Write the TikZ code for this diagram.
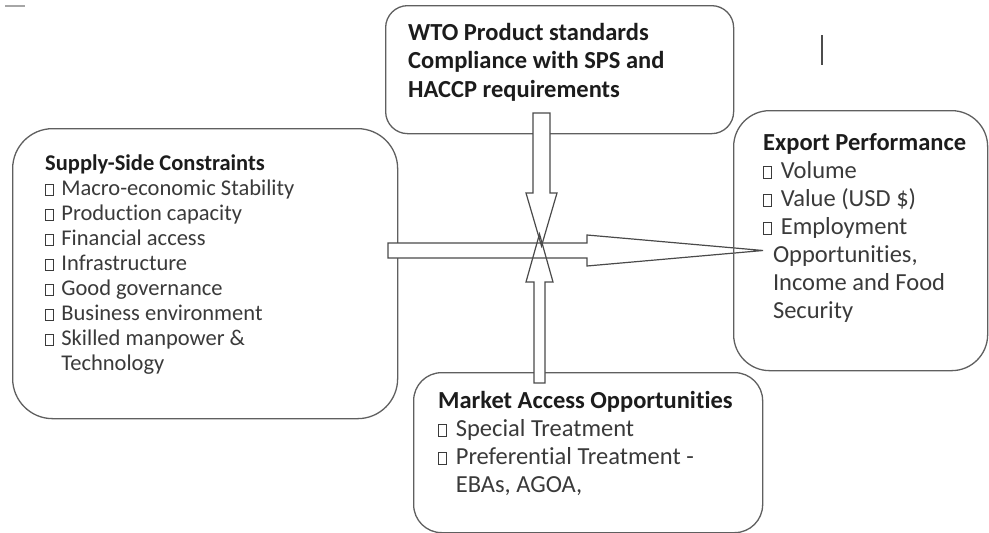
\documentclass[tikz,border=0pt]{standalone}
\usepackage{fontspec}
\setmainfont{Carlito}[Ligatures=NoCommon]
\usetikzlibrary{calc}

\definecolor{boxline}{HTML}{5F5F5F}
\definecolor{arrline}{HTML}{4A4A4A}
\definecolor{titletext}{HTML}{1C1C1C}
\definecolor{itemtext}{HTML}{3A3A3A}

% strut that fixes the height of a block's first line
\newcommand\topstrut{\rule{0pt}{20pt}}
% hollow square bullet
\newcommand\chk{\makebox[0.72em][l]{\setlength\fboxsep{0pt}\setlength\fboxrule{0.8pt}\fbox{\rule{0pt}{0.46em}\hspace{0.3em}}}}
\newcommand\contindent{\hspace*{0.72em}}

\begin{document}
\begin{tikzpicture}[x=1pt,y=-1pt,
  panel/.style={draw=boxline, line width=1.3pt, inner sep=0pt, anchor=north west},
  arrowfill/.style={fill=white},
  arrowdraw/.style={draw=arrline, line width=1.2pt, line join=miter},
  txt/.style={anchor=north west, inner sep=0pt, align=left, text=itemtext},
  bodyA/.style={font=\fontsize{22.5}{25}\selectfont},
  bodyB/.style={font=\fontsize{24.5}{28}\selectfont},
  bodyBbold/.style={font=\fontsize{24.5}{28.5}\selectfont\bfseries}]

\useasboundingbox (0,0) rectangle (989,533);

% small marks near the top
\draw[black!35, line width=2.5pt] (5,6) -- (25,6);
\draw[black!70, line width=2.8pt] (822,35) -- (822,65);

% panels
\node[panel, fill=white, rounded corners=40pt, minimum width=385pt, minimum height=290pt] (supply) at (12,128) {};
\node[panel, fill=white, rounded corners=22pt, minimum width=348pt, minimum height=128pt] (wto) at (385,5) {};
\node[panel, fill=white, rounded corners=28pt, minimum width=349pt, minimum height=160pt] (market) at (413,372) {};

% panel texts
\node[txt, bodyBbold, text=titletext] (wtotext) at (408,20)
  {\topstrut WTO Product standards\\Compliance with SPS and\\HACCP requirements};

\node[txt, bodyA] (supplytext) at (45,150)
  {\topstrut\textcolor{titletext}{\textbf{Supply-Side Constraints}}\\
   \chk Macro-economic Stability\\
   \chk Production capacity\\
   \chk Financial access\\
   \chk Infrastructure\\
   \chk Good governance\\
   \chk Business environment\\
   \chk Skilled manpower \&\\
   \contindent Technology};

\node[txt, bodyB] (markettext) at (438,388)
  {\topstrut\textcolor{titletext}{\textbf{Market Access Opportunities}}\\
   \chk Special Treatment\\
   \chk Preferential Treatment -\\
   \contindent EBAs, AGOA,};

% block arrows
\coordinate (hT) at (388,250.5);
\coordinate (hH) at (763,250.5);
\coordinate (dT) at (541.5,113);
\coordinate (dH) at (541.5,246);
\coordinate (uT) at (539.5,383);
\coordinate (uH) at (539.5,234);

\foreach \mode in {arrowfill,arrowdraw}{
  \path[\mode] ($(hT)+(0,-7.5)$) -- ($(hH)+(-176,-7.5)$) -- ($(hH)+(-176,-15.5)$) -- (hH)
     -- ($(hH)+(-176,15.5)$) -- ($(hH)+(-176,7.5)$) -- ($(hT)+(0,7.5)$) -- cycle;
  \path[\mode] ($(dT)+(-8.5,0)$) -- ($(dH)+(-8.5,-53)$) -- ($(dH)+(-15.5,-53)$) -- (dH)
     -- ($(dH)+(15.5,-53)$) -- ($(dH)+(8.5,-53)$) -- ($(dT)+(8.5,0)$) -- cycle;
  \path[\mode] ($(uT)+(-5.5,0)$) -- ($(uH)+(-5.5,48)$) -- ($(uH)+(-13.5,48)$) -- (uH)
     -- ($(uH)+(13.5,48)$) -- ($(uH)+(5.5,48)$) -- ($(uT)+(5.5,0)$) -- cycle;
}

% export panel, outlined over the arrow tip
\node[panel, rounded corners=36pt, minimum width=254pt, minimum height=260pt] (export) at (733,110) {};
\node[txt, bodyB] (exporttext) at (763,130)
  {\topstrut\textcolor{titletext}{\textbf{Export Performance}}\\
   \chk Volume\\
   \chk Value (USD \$)\\
   \chk Employment\\
   \hspace*{0.4em}Opportunities,\\
   \hspace*{0.4em}Income and Food\\
   \hspace*{0.4em}Security};

\end{tikzpicture}
\end{document}
